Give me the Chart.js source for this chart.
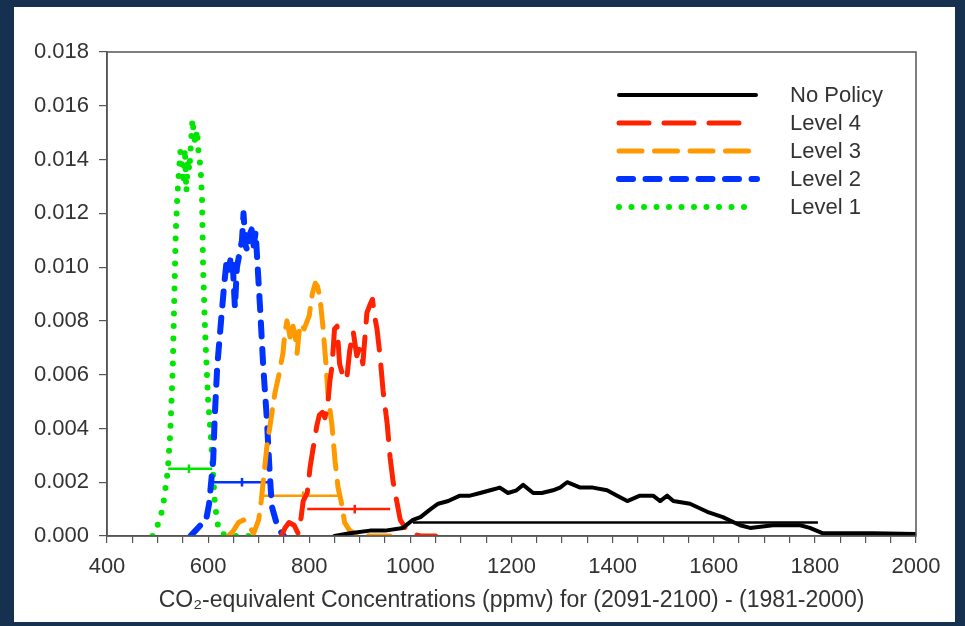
<!DOCTYPE html>
<html>
<head>
<meta charset="utf-8">
<script src="https://cdn.jsdelivr.net/npm/chart.js@4.4.0/dist/chart.umd.min.js"></script>
<style>
  html, body { margin: 0; padding: 0; background: #163050; }
  body { width: 965px; height: 626px; position: relative; overflow: hidden; }
  .panel { position: absolute; left: 14px; top: 7px; width: 941px; height: 615px; background: #fff; }
  canvas { display: block; }
</style>
</head>
<body>
<div class="panel"><canvas id="pdfChart" width="941" height="615"></canvas></div>
<script>
// density curves: [concentration, probability]
const noPolicy = [[850,0],[880,0.0001],[920,0.0002],[950,0.0002],[985,0.0003],[1005,0.0006],[1020,0.0007],[1040,0.001],[1055,0.0012],[1075,0.0013],[1098,0.0015],[1118,0.0015],[1138,0.0016],[1158,0.0017],[1177,0.0018],[1193,0.0016],[1210,0.0017],[1223,0.0019],[1243,0.0016],[1260,0.0016],[1282,0.0017],[1296,0.0018],[1310,0.002],[1336,0.0018],[1361,0.0018],[1389,0.0017],[1409,0.0015],[1429,0.0013],[1454,0.0015],[1480,0.0015],[1494,0.0013],[1508,0.0015],[1520,0.0013],[1553,0.0012],[1587,0.0009],[1618,0.0007],[1652,0.0004],[1672,0.0003],[1717,0.0004],[1771,0.0004],[1790,0.0003],[1816,0.0001],[1850,0.0001],[1915,0.0001],[2000,0.00007]];
const level4 = [[745,0],[752,0.0003],[760,0.0005],[770,0.0004],[778,0.0001],[784,0.0007],[788,0.0013],[796,0.0016],[802,0.0026],[808,0.0033],[815,0.0041],[820,0.0045],[826,0.0046],[831,0.0044],[836,0.0048],[841,0.0058],[845,0.0063],[850,0.0077],[855,0.0078],[860,0.0064],[866,0.006],[874,0.0058],[880,0.0069],[887,0.0076],[894,0.0067],[900,0.007],[906,0.0064],[914,0.0083],[920,0.0086],[925,0.0088],[930,0.0081],[934,0.0077],[940,0.0067],[946,0.0054],[954,0.0042],[960,0.0029],[966,0.002],[974,0.0012],[980,0.0006],[990,0.0003],[1000,0.0001],[1020,0],[1050,0]];
const level3 = [[640,0],[650,0.0002],[660,0.0005],[670,0.0006],[680,0.0004],[690,0.0001],[700,0.0006],[705,0.0013],[710,0.0022],[716,0.0033],[724,0.0043],[732,0.0053],[740,0.006],[748,0.0068],[752,0.0076],[756,0.008],[760,0.0076],[764,0.0072],[768,0.0078],[772,0.0075],[776,0.0068],[780,0.0076],[784,0.0079],[790,0.0077],[796,0.008],[800,0.0082],[806,0.009],[812,0.0094],[816,0.0093],[821,0.0089],[827,0.0078],[833,0.0064],[837,0.0053],[845,0.0041],[851,0.0028],[857,0.0018],[863,0.0013],[870,0.0005],[880,0.0002],[890,0.0001],[920,0],[960,0]];
const level2 = [[565,0],[575,0.0002],[585,0.0004],[595,0.0005],[602,0.0012],[606,0.002],[610,0.0028],[613,0.0044],[618,0.0063],[626,0.0081],[632,0.0094],[637,0.0103],[641,0.0099],[645,0.0104],[649,0.01],[653,0.0085],[657,0.01],[662,0.0105],[667,0.011],[670,0.012],[674,0.0108],[678,0.0106],[682,0.0112],[686,0.0114],[690,0.0108],[694,0.0113],[698,0.01],[703,0.0084],[709,0.0063],[716,0.0044],[721,0.0026],[726,0.0011],[735,0.0005],[742,0.0002],[750,0]];
const level1 = [[490,0],[500,0.0004],[510,0.001],[520,0.0024],[525,0.0038],[530,0.0062],[533,0.0088],[536,0.0113],[539,0.0126],[542,0.0135],[545,0.0143],[548,0.0138],[551,0.0131],[554,0.0144],[557,0.0128],[560,0.014],[563,0.0136],[566,0.0146],[569,0.0155],[572,0.0149],[575,0.0146],[578,0.0151],[581,0.0143],[585,0.0137],[588,0.0125],[590,0.01],[594,0.0076],[600,0.005],[605,0.0038],[609,0.0026],[613,0.0013],[618,0.0005],[625,0.0001],[640,0],[660,0],[690,0]];

// horizontal range bars, order: No Policy, Level 4, Level 3, Level 2, Level 1
const rangeLow = [1005, 796, 709, 608, 521];
const rangeHigh = [1806, 960, 857, 722, 608];
const rangeMid = [null, 890, 788, 667, 562];
const rangeY = [0.0005, 0.001, 0.0015, 0.002, 0.0025];

const seriesNames = ["No Policy", "Level 4", "Level 3", "Level 2", "Level 1"];
const seriesData = [noPolicy, level4, level3, level2, level1];
const seriesColors = ["#000000", "#ff2200", "#ff9900", "#0033ff", "#00e600"];
const seriesWidths = [4, 5, 5, 6, 6];
const seriesDash = [[], [30, 15], [23, 12.5], [14, 12.5], [0, 12.5]];
const legendLength = [137, 122, 131, 138, 128];

const xTicks = [400, 600, 800, 1000, 1200, 1400, 1600, 1800, 2000];

const FONT = "Liberation Sans, Arial, sans-serif";
const TXT = "#333333";

const datasets = [];
seriesNames.forEach((name, i) => {
  datasets.push({
    label: name,
    data: seriesData[i].map(p => ({ x: p[0], y: p[1] })),
    borderColor: seriesColors[i],
    borderWidth: seriesWidths[i],
    borderDash: seriesDash[i],
    borderCapStyle: "round",
    borderJoinStyle: "round",
    pointRadius: 0,
    tension: 0,
    fill: false,
    legendLen: legendLength[i]
  });
});
seriesNames.forEach((name, i) => {
  datasets.push({
    label: name + " range",
    data: [{ x: rangeLow[i], y: rangeY[i] }, { x: rangeHigh[i], y: rangeY[i] }],
    borderColor: seriesColors[i],
    borderWidth: 2.5,
    pointRadius: 0
  });
  if (rangeMid[i] !== null) {
    datasets.push({
      label: name + " mean",
      data: [{ x: rangeMid[i], y: rangeY[i] - 0.00016 }, { x: rangeMid[i], y: rangeY[i] + 0.00016 }],
      borderColor: seriesColors[i],
      borderWidth: 2.5,
      pointRadius: 0
    });
  }
});

// box round the plot plus the legend drawn with long line samples
const framePlugin = {
  id: "frame",
  afterDraw(chart) {
    const ctx = chart.ctx;
    const a = chart.chartArea;
    ctx.save();
    ctx.strokeStyle = "#555555";
    ctx.lineWidth = 1.5;
    ctx.strokeRect(a.left, a.top, a.right - a.left, a.bottom - a.top);

    let y = a.top + 43;
    chart.data.datasets.filter(d => d.legendLen).forEach(d => {
      ctx.beginPath();
      ctx.strokeStyle = d.borderColor;
      ctx.lineWidth = d.borderWidth;
      ctx.lineCap = "round";
      ctx.setLineDash(d.borderDash);
      ctx.moveTo(a.left + 512, y);
      ctx.lineTo(a.left + 512 + d.legendLen, y);
      ctx.stroke();
      ctx.setLineDash([]);
      ctx.fillStyle = TXT;
      ctx.font = "22px " + FONT;
      ctx.textBaseline = "middle";
      ctx.fillText(d.label, a.left + 683, y + 1);
      y += 28;
    });
    ctx.restore();
  }
};

new Chart(document.getElementById("pdfChart"), {
  type: "line",
  data: { datasets: datasets },
  options: {
    responsive: false,
    animation: false,
    layout: { padding: { left: 0, top: 45, right: 39, bottom: 0 } },
    plugins: {
      legend: { display: false },
      tooltip: { enabled: false }
    },
    scales: {
      x: {
        type: "linear",
        min: 400,
        max: 2000,
        afterFit: s => { s.height = 86; },
        afterBuildTicks: s => {
          const t = [];
          for (let v = 400; v <= 2000; v += 50) t.push({ value: v });
          s.ticks = t;
        },
        ticks: {
          autoSkip: false,
          maxRotation: 0,
          padding: 11,
          color: TXT,
          font: { family: FONT, size: 22 },
          callback: v => (xTicks.includes(v) ? v : "")
        },
        grid: { drawOnChartArea: false, tickLength: 7, color: "#555555", lineWidth: 1.2 },
        border: { display: true, color: "#555555", width: 1.5 },
        title: {
          display: true,
          text: "CO\u2082-equivalent Concentrations (ppmv) for (2091-2100) - (1981-2000)",
          color: TXT,
          font: { family: FONT, size: 23 },
          padding: { top: 0, bottom: 8 }
        }
      },
      y: {
        min: 0,
        max: 0.018,
        afterFit: s => { s.width = 93; },
        ticks: {
          stepSize: 0.002,
          padding: 10,
          color: TXT,
          font: { family: FONT, size: 22 },
          callback: v => v.toFixed(3)
        },
        grid: { drawOnChartArea: false, tickLength: 8, color: "#555555", lineWidth: 1.2 },
        border: { display: true, color: "#555555", width: 1.5 }
      }
    }
  },
  plugins: [framePlugin]
});
</script>
</body>
</html>
